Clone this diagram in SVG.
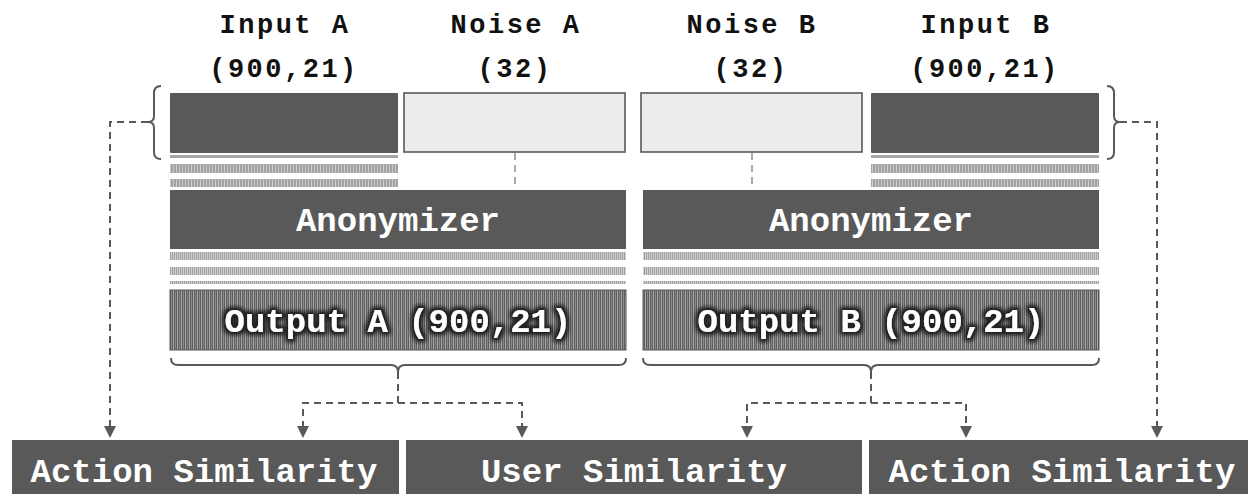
<svg xmlns="http://www.w3.org/2000/svg" width="1248" height="494" viewBox="0 0 1248 494">
<defs>
<style>
.lbl{font-family:"Liberation Mono","Courier New",monospace;font-weight:bold;font-size:27px;fill:#111;text-anchor:middle;letter-spacing:2.5px}
.wt{font-family:"Liberation Mono","Courier New",monospace;font-weight:bold;font-size:34px;fill:#fff;text-anchor:middle}
.dark{fill:#595959}
.noise{fill:#ececec;stroke:#595959;stroke-width:1.6}
.thin{fill:#a6a6a6}
.hatch{fill:url(#hatch)}
.hatch2{fill:url(#hatch2)}
.out{fill:url(#outp);stroke:#555;stroke-width:1}
.brace{fill:none;stroke:#595959;stroke-width:2}
.dash{fill:none;stroke:#595959;stroke-width:2;stroke-dasharray:7,5}
.ndash{fill:none;stroke:#aaaaaa;stroke-width:2;stroke-dasharray:7,5}
</style>
<pattern id="hatch" width="3" height="10" patternUnits="userSpaceOnUse">
<rect width="3" height="10" fill="#a3a3a3"/>
<rect x="2" width="1" height="10" fill="#c8c8c8"/>
</pattern>
<pattern id="hatch2" width="2" height="10" patternUnits="userSpaceOnUse">
<rect width="2" height="10" fill="#a0a0a0"/>
<rect x="1" width="1" height="10" fill="#d0d0d0"/>
</pattern>
<pattern id="outp" width="4" height="60" patternUnits="userSpaceOnUse">
<rect width="4" height="60" fill="#5e5e5e"/>
<rect x="1" width="1" height="60" fill="#a8a8a8"/>
<rect x="3" width="1" height="60" fill="#8a8a8a"/>
</pattern>
<filter id="glow" x="-10%" y="-30%" width="120%" height="160%">
<feMorphology in="SourceAlpha" operator="dilate" radius="1.5" result="d"/>
<feGaussianBlur in="d" stdDeviation="2" result="b"/>
<feFlood flood-color="#222"/>
<feComposite in2="b" operator="in" result="s"/>
<feMerge><feMergeNode in="s"/><feMergeNode in="s"/><feMergeNode in="SourceGraphic"/></feMerge>
</filter>
</defs>
<rect width="1248" height="494" fill="#fff"/>

<g id="labels">
<text class="lbl" x="285" y="33">Input A</text>
<text class="lbl" x="284" y="77">(900,21)</text>
<text class="lbl" x="516" y="33">Noise A</text>
<text class="lbl" x="515" y="77">(32)</text>
<text class="lbl" x="752" y="33">Noise B</text>
<text class="lbl" x="751" y="77">(32)</text>
<text class="lbl" x="986" y="33">Input B</text>
<text class="lbl" x="985" y="77">(900,21)</text>
</g>

<g id="inputA">
<rect class="dark" x="170" y="93" width="228" height="60" rx="1"/>
<rect class="thin" x="170" y="155" width="228" height="3"/>
<rect class="hatch" x="170" y="164" width="228" height="9"/>
<rect class="hatch" x="170" y="179" width="228" height="8"/>
</g>
<g id="noiseA"><rect class="noise" x="404" y="93" width="221" height="59"/></g>
<g id="noiseB"><rect class="noise" x="641" y="93" width="221" height="59"/></g>
<g id="inputB">
<rect class="dark" x="871" y="93" width="228" height="60" rx="1"/>
<rect class="thin" x="871" y="155" width="228" height="3"/>
<rect class="hatch" x="871" y="164" width="228" height="9"/>
<rect class="hatch" x="871" y="179" width="228" height="8"/>
</g>

<g id="anonA">
<rect class="dark" x="170" y="190" width="456" height="59"/>
<text class="wt" x="398" y="231">Anonymizer</text>
<rect class="hatch2" x="170" y="252" width="456" height="8"/>
<rect class="hatch2" x="170" y="267" width="456" height="8"/>
<rect class="hatch2" x="170" y="281" width="456" height="3"/>
</g>
<g id="anonB">
<rect class="dark" x="643" y="190" width="456" height="59"/>
<text class="wt" x="871" y="231">Anonymizer</text>
<rect class="hatch2" x="643" y="252" width="456" height="8"/>
<rect class="hatch2" x="643" y="267" width="456" height="8"/>
<rect class="hatch2" x="643" y="281" width="456" height="3"/>
</g>

<g id="outA">
<rect class="out" x="170" y="290" width="456" height="60"/>
<text class="wt" x="398" y="332" filter="url(#glow)">Output A (900,21)</text>
</g>
<g id="outB">
<rect class="out" x="643" y="290" width="456" height="60"/>
<text class="wt" x="871" y="332" filter="url(#glow)">Output B (900,21)</text>
</g>

<g id="sim1">
<rect class="dark" x="12" y="440" width="387" height="60"/>
<text class="wt" x="204" y="482">Action Similarity</text>
</g>
<g id="sim2">
<rect class="dark" x="406" y="440" width="456" height="60"/>
<text class="wt" x="634" y="482">User Similarity</text>
</g>
<g id="sim3">
<rect class="dark" x="869" y="440" width="390" height="60"/>
<text class="wt" x="1062" y="482">Action Similarity</text>
</g>

<g id="connectors">
<path class="brace" d="M161,86 Q154,86 154,93 L154,116 Q154,122 148,122 Q154,122 154,128 L154,152 Q154,159 161,159"/>
<path class="brace" d="M1107,86 Q1114,86 1114,93 L1114,116 Q1114,122 1120,122 Q1114,122 1114,128 L1114,152 Q1114,159 1107,159"/>
<path class="brace" d="M171,358 Q171,365 178,365 L391,365 Q398,365 398,372 Q398,365 405,365 L619,365 Q626,365 626,358"/>
<path class="brace" d="M643,358 Q643,365 650,365 L864,365 Q871,365 871,372 Q871,365 878,365 L1092,365 Q1099,365 1099,358"/>
<path class="ndash" d="M515,153 V185"/>
<path class="ndash" d="M752,153 V185"/>
<path class="dash" d="M148,122 H110 V428"/>
<path class="dash" d="M1120,122 H1157 V428"/>
<path class="dash" d="M398,372 V403 H303 V428"/>
<path class="dash" d="M398,403 H522 V428"/>
<path class="dash" d="M871,372 V403 H747 V428"/>
<path class="dash" d="M871,403 H966 V428"/>
<g fill="#595959">
<path d="M104,426 L116,426 L110,438 Z"/>
<path d="M1151,426 L1163,426 L1157,438 Z"/>
<path d="M297,426 L309,426 L303,438 Z"/>
<path d="M516,426 L528,426 L522,438 Z"/>
<path d="M741,426 L753,426 L747,438 Z"/>
<path d="M960,426 L972,426 L966,438 Z"/>
</g>
</g>
</svg>
